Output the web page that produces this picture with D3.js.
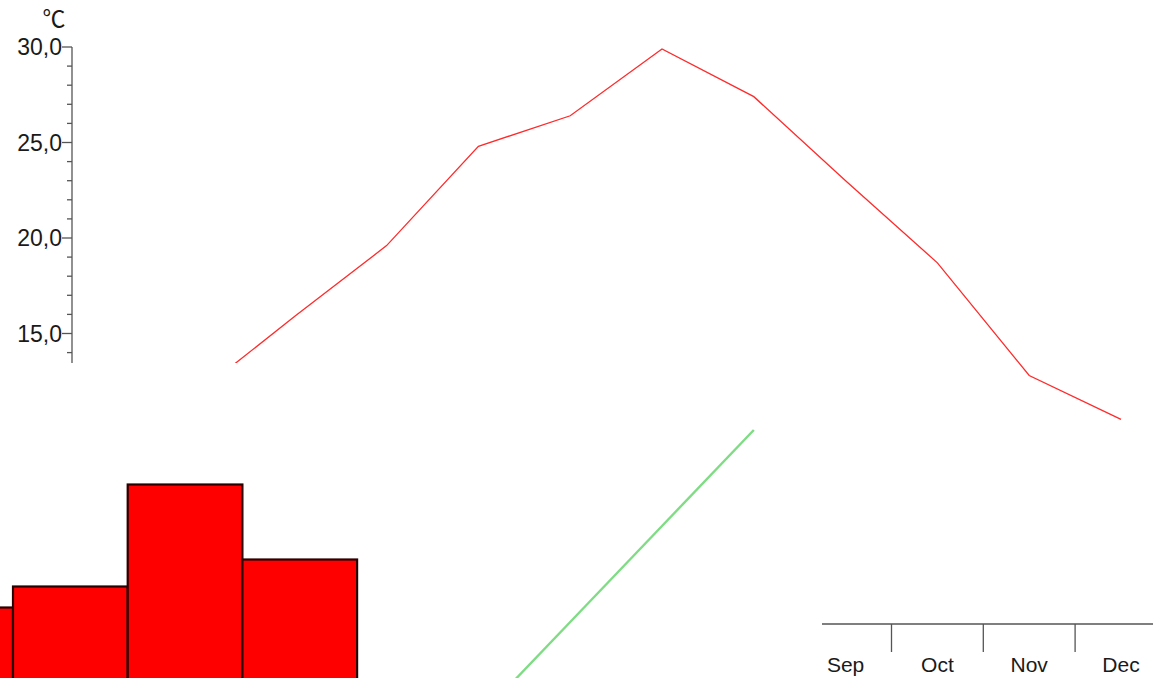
<!DOCTYPE html>
<html><head><meta charset="utf-8">
<script src="https://cdn.jsdelivr.net/npm/d3@7"></script>
<style>body{margin:0;background:#fff}svg{display:block}</style>
</head><body><svg id="c" width="1153" height="678"></svg>
<script>
const months = ["Jan","Feb","Mar","Apr","May","Jun","Jul","Aug","Sep","Oct","Nov","Dec"];
const temperature = [9.8, 12.1, 15.9, 19.6, 24.8, 26.4, 29.9, 27.4, 23.0, 18.7, 12.8, 10.5];
const barMonths = ["Jan","Feb","Mar","Apr"];
const barValues = [47, 61, 129, 79];
const greenMonths = ["May","Jun","Jul","Aug"];
const greenValues = [5, 29, 53, 77];
const yTicks = [15, 20, 25, 30];
const yTickLabels = ["15,0","20,0","25,0","30,0"];
const unitLabel = "℃";

const svg = d3.select("#c");
const W = 1153, H = 678;
const defs = svg.append("defs");
defs.append("clipPath").attr("id","topClip").append("path")
  .attr("d","M0,0H1153V678H822V363H0Z");
defs.append("clipPath").attr("id","axClip").append("rect")
  .attr("x",822).attr("y",560).attr("width",331).attr("height",118);
defs.append("clipPath").attr("id","barClip").append("rect")
  .attr("x",0).attr("y",380).attr("width",359).attr("height",298);

const x = d3.scaleBand().domain(months).range([65.3, 1166.9]).padding(0);
const y = d3.scaleLinear().domain([0,30]).range([620,47]);
const xBar = d3.scaleBand().domain(months).range([-101.7, 1274.7]).padding(0);
const yBar = d3.scaleLinear().domain([0,100]).range([678,528]);
const y2 = d3.scaleLinear().domain([0,100]).range([738,338]);
const cx = m => x(m) + x.bandwidth()/2;

// bars
svg.append("g").attr("clip-path","url(#barClip)")
  .selectAll("rect").data(barMonths).join("rect")
  .attr("x", d => xBar(d))
  .attr("y", (d,i) => yBar(barValues[i]))
  .attr("width", xBar.bandwidth())
  .attr("height", (d,i) => yBar(0) - yBar(barValues[i]) + 10)
  .attr("fill","#ff0000").attr("stroke","#2a0000").attr("stroke-width",2.2);

// green line
svg.append("path")
  .datum(greenMonths.map((m,i)=>[cx(m), y2(greenValues[i])]))
  .attr("d", d3.line())
  .attr("fill","none").attr("stroke","#7fdc85").attr("stroke-width",2.4);

// y axis (clipped)
const gTop = svg.append("g").attr("clip-path","url(#topClip)");
const axisX = 72;
const minor = d3.range(0,31,1);
const gy = gTop.append("g");
gy.append("line").attr("x1",axisX).attr("x2",axisX).attr("y1",y(30)).attr("y2",y(0))
  .attr("stroke","#555").attr("stroke-width",1.3);
gy.selectAll("line.t").data(minor).join("line").attr("class","t")
  .attr("x1", d => d%5===0 ? axisX-10 : axisX-5).attr("x2",axisX)
  .attr("y1", d=>y(d)).attr("y2", d=>y(d))
  .attr("stroke","#555").attr("stroke-width",1.3);
gy.selectAll("text").data(yTicks).join("text")
  .attr("x", axisX-10).attr("y", d=>y(d)).attr("dy","0.36em")
  .attr("text-anchor","end")
  .attr("font-family","Liberation Sans, Arial, sans-serif").attr("font-size",23)
  .attr("fill","#1a1a1a")
  .text((d,i)=>yTickLabels[i]);
svg.append("text").attr("x",54).attr("y",27).attr("text-anchor","middle")
  .attr("font-family","Noto Sans CJK SC, sans-serif").attr("font-size",23)
  .attr("fill","#1a1a1a").text(unitLabel);

// red temperature line
gTop.append("path")
  .datum(months.map((m,i)=>[cx(m), y(temperature[i])]))
  .attr("d", d3.line())
  .attr("fill","none").attr("stroke","#ff2a2a").attr("stroke-width",1.3);

// x axis (bottom right)
const axisY = 624;
const gx = svg.append("g").attr("clip-path","url(#axClip)");
gx.append("line").attr("x1",0).attr("x2",W).attr("y1",axisY).attr("y2",axisY)
  .attr("stroke","#555").attr("stroke-width",1.3);
gx.selectAll("line.t").data(months.slice(1)).join("line").attr("class","t")
  .attr("x1", d=>x(d)).attr("x2", d=>x(d)).attr("y1",axisY).attr("y2",axisY+28)
  .attr("stroke","#555").attr("stroke-width",1.3);
svg.append("g").selectAll("text").data(months.filter(m => cx(m) > 822)).join("text")
  .attr("x", d=>cx(d)).attr("y", 672)
  .attr("text-anchor","middle")
  .attr("font-family","Liberation Sans, Arial, sans-serif").attr("font-size",21)
  .attr("fill","#1a1a1a").text(d=>d);
</script></body></html>
